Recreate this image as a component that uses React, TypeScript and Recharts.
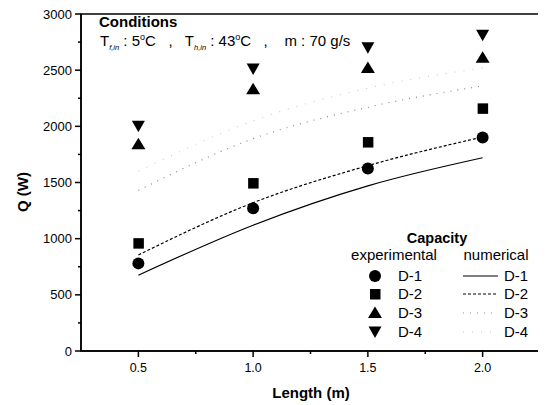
import React from 'react';
import { ComposedChart, XAxis, YAxis, Line, Scatter, ReferenceArea, Customized } from 'recharts';

// --- data ---
const lengths = [0.5, 1.0, 1.5, 2.0];
const caseNames = ['D-1', 'D-2', 'D-3', 'D-4'];

const expD1 = [780, 1270, 1625, 1900];
const expD2 = [960, 1495, 1860, 2160];
const expD3 = [1840, 2330, 2520, 2610];
const expD4 = [2000, 2510, 2700, 2810];

const numD1 = [675, 1120, 1470, 1720];
const numD2 = [855, 1320, 1650, 1905];
const numD3 = [1430, 1890, 2170, 2360];
const numD4 = [1600, 2050, 2340, 2520];

const xTicks = [0.5, 0.75, 1.0, 1.25, 1.5, 1.75, 2.0];
const xMajor = [0.5, 1.0, 1.5, 2.0];
const yTicks = [0, 250, 500, 750, 1000, 1250, 1500, 1750, 2000, 2250, 2500, 2750, 3000];
const yMajor = [0, 500, 1000, 1500, 2000, 2500, 3000];

const FONT = '"Liberation Sans", Arial, Helvetica, sans-serif';

const toPoints = (vals: number[]) => lengths.map((x, i) => ({ x, q: vals[i] }));

const expSeries = [
  { name: caseNames[0], data: toPoints(expD1), marker: 'circle' },
  { name: caseNames[1], data: toPoints(expD2), marker: 'square' },
  { name: caseNames[2], data: toPoints(expD3), marker: 'up' },
  { name: caseNames[3], data: toPoints(expD4), marker: 'down' },
];

const numSeries = [
  { name: caseNames[0], data: toPoints(numD1), stroke: '#000', dash: undefined, width: 1.2 },
  { name: caseNames[1], data: toPoints(numD2), stroke: '#000', dash: '3 2', width: 1.2 },
  { name: caseNames[2], data: toPoints(numD3), stroke: '#8a8a8a', dash: '1 6', width: 1.2 },
  { name: caseNames[3], data: toPoints(numD4), stroke: '#c4c4c4', dash: '1 8', width: 1 },
];

const Marker = ({ kind, cx, cy }: { kind: string; cx: number; cy: number }) => {
  if (cx == null || cy == null) return null;
  switch (kind) {
    case 'circle':
      return <circle cx={cx} cy={cy} r={6} fill="#000" />;
    case 'square':
      return <rect x={cx - 5} y={cy - 5} width={10.5} height={10.5} fill="#000" />;
    case 'up':
      return <polygon points={`${cx},${cy - 6.5} ${cx + 7},${cy + 5} ${cx - 7},${cy + 5}`} fill="#000" />;
    default:
      return <polygon points={`${cx - 6.5},${cy - 5.5} ${cx + 6.5},${cy - 5.5} ${cx},${cy + 6}`} fill="#000" />;
  }
};

const XTick = (props: any) => {
  const { x, y, payload } = props;
  const major = xMajor.includes(payload.value);
  return (
    <g>
      <line x1={x} y1={y} x2={x} y2={y + (major ? 6 : 3)} stroke="#000" strokeWidth={1.5} />
      {major && (
        <text x={x} y={y + 21} textAnchor="middle" fontSize={12.5} fontFamily={FONT} fill="#000">
          {payload.value.toFixed(1)}
        </text>
      )}
    </g>
  );
};

const YTick = (props: any) => {
  const { x, y, payload } = props;
  const major = yMajor.includes(payload.value);
  return (
    <g>
      <line x1={x} y1={y} x2={x - (major ? 6 : 3)} y2={y} stroke="#000" strokeWidth={1.5} />
      {major && (
        <text x={x - 9} y={y + 4.5} textAnchor="end" fontSize={13} fontFamily={FONT} fill="#000">
          {payload.value}
        </text>
      )}
    </g>
  );
};

// --- texts: axis titles, conditions box and the two-column legend ---
const Annotations = () => {
  const rowY = [268, 286, 305, 324];
  return (
    <g fontFamily={FONT} fill="#000">
      <text x={14} y={184} transform="rotate(-90 14 184)" textAnchor="middle" dominantBaseline="central" fontSize={15} fontWeight="bold">
        Q (W)
      </text>
      <text x={303} y={390} textAnchor="middle" fontSize={15} fontWeight="bold">
        Length (m)
      </text>

      <text x={91} y={19} fontSize={15} fontWeight="bold">Conditions</text>
      <text x={92} y={38} fontSize={15} style={{ whiteSpace: 'pre' }}>
        T<tspan fontSize={7.5} fontStyle="italic" dy={4}>f,in</tspan>
        <tspan dy={-4}> : 5</tspan>
        <tspan fontSize={9} dy={-6}>o</tspan>
        <tspan dy={6}>C   ,   T</tspan>
        <tspan fontSize={7.5} fontStyle="italic" dy={4}>h,in</tspan>
        <tspan dy={-4}> : 43</tspan>
        <tspan fontSize={9} dy={-6}>o</tspan>
        <tspan dy={6}>C   ,    m : 70 g/s</tspan>
      </text>

      <text x={429} y={235} textAnchor="middle" fontSize={14.5} fontWeight="bold">Capacity</text>
      <text x={386} y={252} textAnchor="middle" fontSize={15}>experimental</text>
      <text x={488} y={252} textAnchor="middle" fontSize={15}>numerical</text>
      {expSeries.map((s, i) => (
        <g key={`le-${s.name}`}>
          <Marker kind={s.marker} cx={367} cy={rowY[i]} />
          <text x={390} y={rowY[i] + 5} fontSize={15}>{s.name}</text>
        </g>
      ))}
      {numSeries.map((s, i) => (
        <g key={`ln-${s.name}`}>
          <line x1={455} y1={rowY[i]} x2={490} y2={rowY[i]} stroke={s.stroke} strokeWidth={s.width} strokeDasharray={s.dash} />
          <text x={496} y={rowY[i] + 5} fontSize={15}>{s.name}</text>
        </g>
      ))}
    </g>
  );
};

export default function App() {
  return (
    <div style={{ width: 538, height: 397, background: '#fff' }}>
      <ComposedChart width={538} height={397} margin={{ top: 6, right: 6, bottom: 0, left: 0 }}>
        <XAxis
          type="number"
          dataKey="x"
          domain={[0.25, 2.25]}
          ticks={xTicks}
          interval={0}
          tick={<XTick />}
          tickLine={false}
          tickSize={0}
          tickMargin={0}
          height={54}
          axisLine={{ stroke: '#000', strokeWidth: 1.5 }}
          allowDataOverflow
        />
        <YAxis
          type="number"
          dataKey="q"
          domain={[0, 3000]}
          ticks={yTicks}
          interval={0}
          tick={<YTick />}
          tickLine={false}
          tickSize={0}
          tickMargin={0}
          width={73}
          axisLine={{ stroke: '#000', strokeWidth: 1.5 }}
          allowDataOverflow
        />
        <ReferenceArea x1={0.25} x2={2.25} y1={0} y2={3000} fill="none" stroke="#000" strokeWidth={1.5} />
        {numSeries.map((s) => (
          <Line
            key={`num-${s.name}`}
            data={s.data}
            dataKey="q"
            type="monotone"
            stroke={s.stroke}
            strokeWidth={s.width}
            strokeDasharray={s.dash}
            dot={false}
            isAnimationActive={false}
          />
        ))}
        {expSeries.map((s) => (
          <Scatter
            key={`exp-${s.name}`}
            data={s.data}
            dataKey="q"
            shape={(p: any) => <Marker kind={s.marker} cx={p.cx} cy={p.cy} />}
            isAnimationActive={false}
          />
        ))}
        <Customized component={<Annotations />} />
      </ComposedChart>
    </div>
  );
}
